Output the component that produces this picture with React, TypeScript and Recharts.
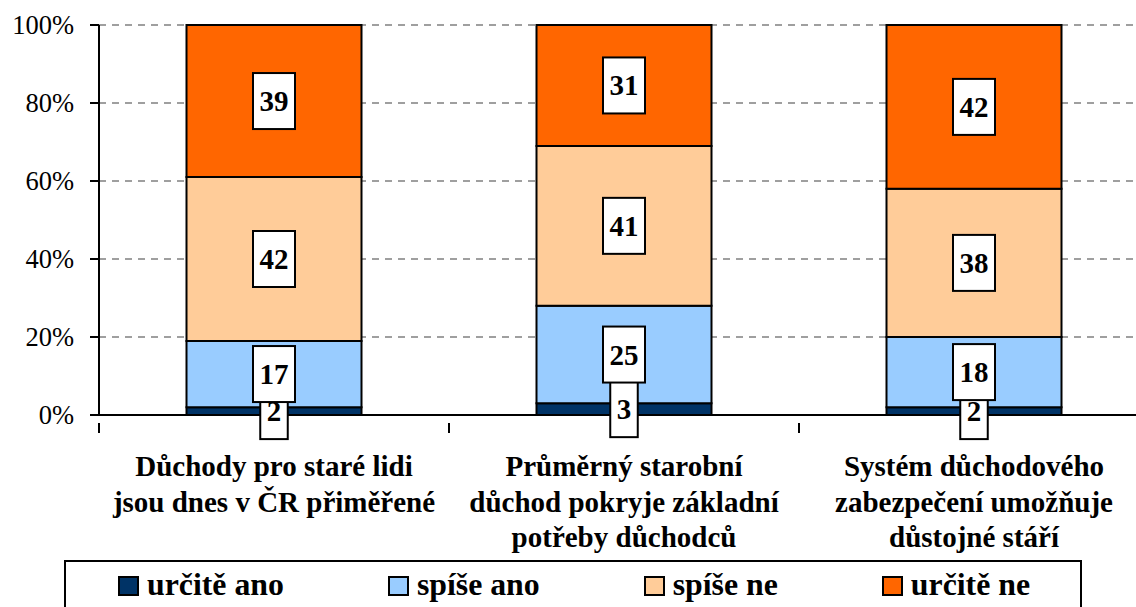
import React from 'react';
import { BarChart, Bar, XAxis, YAxis, CartesianGrid, LabelList } from 'recharts';

// categories (tick labels, one entry per line)
const categories = [
  ['Důchody pro staré lidi', 'jsou dnes v ČR přiměřené'],
  ['Průměrný starobní', 'důchod pokryje základní', 'potřeby důchodců'],
  ['Systém důchodového', 'zabezpečení umožňuje', 'důstojné stáří'],
];

// values in % per category
const urciteAno = [2, 3, 2];
const spiseAno = [17, 25, 18];
const spiseNe = [42, 41, 38];
const urciteNe = [39, 31, 42];

const yTicks = [0, 20, 40, 60, 80, 100];

const series = [
  { key: 'urciteAno', name: 'určitě ano', color: '#003366', values: urciteAno },
  { key: 'spiseAno', name: 'spíše ano', color: '#99CCFF', values: spiseAno },
  { key: 'spiseNe', name: 'spíše ne', color: '#FFCC99', values: spiseNe },
  { key: 'urciteNe', name: 'určitě ne', color: '#FF6600', values: urciteNe },
];

const data = categories.map((lines, i) => {
  const row: any = { name: lines.join('\n') };
  series.forEach((s) => { row[s.key] = s.values[i]; });
  return row;
});

const FONT = '"Liberation Serif", "Times New Roman", serif';

// white boxed value label in the middle of a segment
const ValueBox = (props: any) => {
  const { x, y, width, height, value } = props;
  const cx = x + width / 2;
  const cy = y + height / 2;
  const txt = String(value);
  const w = txt.length * 14.5 + 13;
  const h = 56;
  return (
    <g>
      <rect x={cx - w / 2} y={cy - h / 2} width={w} height={h} fill="#fff" stroke="#000" strokeWidth={2} />
      <text x={cx} y={cy + 10} textAnchor="middle" fontFamily={FONT} fontWeight="bold" fontSize={29} fill="#000">
        {txt}
      </text>
    </g>
  );
};

// category tick: multi-line bold label plus tick marks at band boundaries
const CategoryTick = (props: any) => {
  const { x, y, payload } = props;
  const lines = String(payload.value).split('\n');
  const off = payload.offset || 0;
  return (
    <g>
      <line x1={x - off} y1={y} x2={x - off} y2={y + 10} stroke="#000" strokeWidth={2} />
      <line x1={x + off} y1={y} x2={x + off} y2={y + 10} stroke="#000" strokeWidth={2} />
      {lines.map((l, i) => (
        <text key={i} x={x} y={y + 53 + i * 35.5} textAnchor="middle" fontFamily={FONT} fontWeight="bold" fontSize={29} fill="#000">
          {l}
        </text>
      ))}
    </g>
  );
};

export default function App() {
  return (
    <div style={{ position: 'fixed', left: 0, top: 0, width: 1136, height: 607, overflow: 'hidden', background: '#fff', fontFamily: FONT }}>
      <BarChart
        width={1160}
        height={607}
        data={data}
        margin={{ top: 25, right: 11, left: 0, bottom: 0 }}
        barCategoryGap="25%"
      >
        <CartesianGrid horizontal vertical={false} stroke="#808080" strokeWidth={1.5} strokeDasharray="7 6" />
        <XAxis
          dataKey="name"
          height={192}
          interval={0}
          axisLine={{ stroke: '#000', strokeWidth: 2 }}
          tickLine={false}
          tick={<CategoryTick />}
        />
        <YAxis
          width={99}
          domain={[0, 100]}
          ticks={yTicks}
          tickFormatter={(v) => `${v}%`}
          axisLine={{ stroke: '#000', strokeWidth: 2 }}
          tickLine={{ stroke: '#000', strokeWidth: 2 }}
          tickSize={9}
          tickMargin={16}
          tick={{ fill: '#000', fontSize: 26.5, fontFamily: FONT }}
        />
        {series.map((s) => (
          <Bar key={s.key} dataKey={s.key} name={s.name} stackId="a" fill={s.color} stroke="#000" strokeWidth={2} isAnimationActive={false}>
            <LabelList dataKey={s.key} content={<ValueBox />} />
          </Bar>
        ))}
      </BarChart>
      <div
        style={{
          position: 'absolute', left: 64, top: 560, width: 1018, height: 70, boxSizing: 'border-box',
          border: '2px solid #000', display: 'flex', alignItems: 'flex-start', paddingLeft: 52, paddingTop: 7, gap: 104,
        }}
      >
        {series.map((s) => (
          <div key={s.key} style={{ display: 'flex', alignItems: 'flex-start' }}>
            <div style={{ width: 21, height: 20, marginTop: 7, marginRight: 8, boxSizing: 'border-box', border: '2px solid #000', background: s.color }} />
            <span style={{ fontWeight: 'bold', fontSize: 31.8, lineHeight: '31px', whiteSpace: 'nowrap' }}>{s.name}</span>
          </div>
        ))}
      </div>
    </div>
  );
}
